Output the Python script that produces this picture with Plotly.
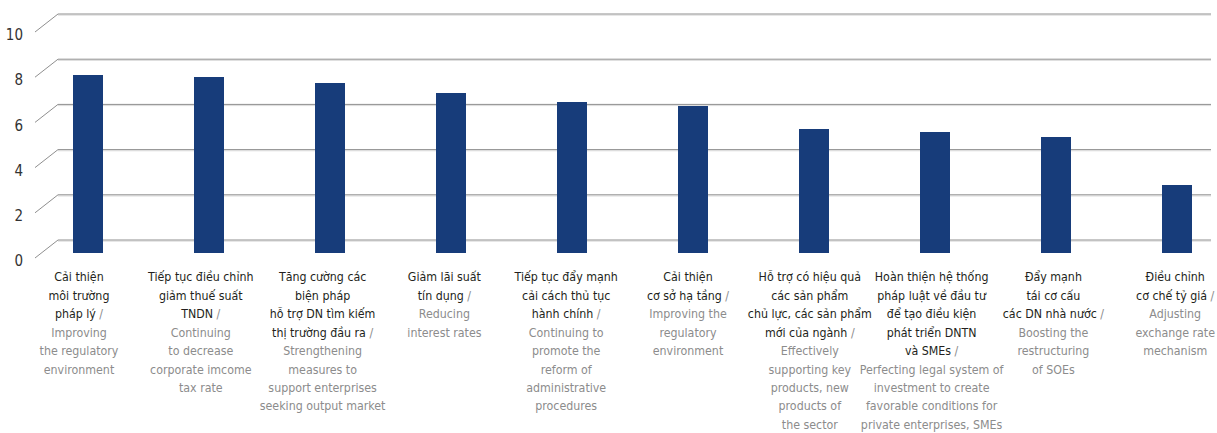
import plotly.graph_objects as go

# ---- data -------------------------------------------------------------
labels_vi = [
    "Cải thiện<br>môi trường<br>pháp lý",
    "Tiếp tục điều chỉnh<br>giảm thuế suất<br>TNDN",
    "Tăng cường các<br>biện pháp<br>hỗ trợ DN tìm kiếm<br>thị trường đầu ra",
    "Giảm lãi suất<br>tín dụng",
    "Tiếp tục đẩy mạnh<br>cải cách thủ tục<br>hành chính",
    "Cải thiện<br>cơ sở hạ tầng",
    "Hỗ trợ có hiệu quả<br>các sản phẩm<br>chủ lực, các sản phẩm<br>mới của ngành",
    "Hoàn thiện hệ thống<br>pháp luật về đầu tư<br>để tạo điều kiện<br>phát triển DNTN<br>và SMEs",
    "Đẩy mạnh<br>tái cơ cấu<br>các DN nhà nước",
    "Điều chỉnh<br>cơ chế tỷ giá",
]
labels_en = [
    "Improving<br>the regulatory<br>environment",
    "Continuing<br>to decrease<br>corporate imcome<br>tax rate",
    "Strengthening<br>measures to<br>support enterprises<br>seeking output market",
    "Reducing<br>interest rates",
    "Continuing to<br>promote the<br>reform of<br>administrative<br>procedures",
    "Improving the<br>regulatory<br>environment",
    "Effectively<br>supporting key<br>products, new<br>products of<br>the sector",
    "Perfecting legal system of<br>investment to create<br>favorable conditions for<br>private enterprises, SMEs",
    "Boosting the<br>restructuring<br>of SOEs",
    "Adjusting<br>exchange rate<br>mechanism",
]
scores = [7.88, 7.79, 7.52, 7.08, 6.68, 6.50, 5.49, 5.35, 5.13, 3.01]
y_ticks = [0, 2, 4, 6, 8, 10]

# ---- layout geometry (pixels) ----------------------------------------
W, H = 1217, 433
PLOT_L, PLOT_B = 35, 266            # left edge / bottom edge of plot area
PX_PER_UNIT = 22.6                  # vertical scale
BAR_BASE_PX = 253                   # pixel row of value 0 for the bars
BAR_FIRST_PX, BAR_STEP_PX = 88, 121
LBL_FIRST_PX, LBL_STEP_PX = 79, 121.8
BACK_DY, FRONT_DY = 13, -5          # back wall lifted, front edge lowered
BACK_X0, BACK_X1 = 58, 1211         # back wall horizontal extent
LABEL_DY = -8                       # y tick labels sit slightly below the front edge

plot_w = W - PLOT_L
y_range = [(BAR_BASE_PX - PLOT_B) / PX_PER_UNIT, BAR_BASE_PX / PX_PER_UNIT]
x_range = [(PLOT_L - BAR_FIRST_PX) / BAR_STEP_PX, (W - BAR_FIRST_PX) / BAR_STEP_PX]
x2_range = [(PLOT_L - LBL_FIRST_PX) / LBL_STEP_PX, (W - LBL_FIRST_PX) / LBL_STEP_PX]


def paper_x(px):
    return (px - PLOT_L) / plot_w


VI_COLOR = "#231f20"
EN_COLOR = "#8c8c8c"
GRID_COLOR = "#8f8f8f"
GRID_SHADOW = "#dcdcdc"
BAR_COLOR = "#173c7a"
FONT = "DejaVu Sans Condensed, Liberation Sans Narrow, Arial Narrow, sans-serif"
LINE_FONT_SIZE = 14.2    # sets the line pitch of the category labels
GLYPH_FONT_SIZE = 12.3   # actual glyph size of the category labels

positions = list(range(len(scores)))
tick_text = [
    f"<span style='font-size:{GLYPH_FONT_SIZE}px'>{vi}"
    f"<span style='color:{EN_COLOR}'> /<br>{en}</span></span>"
    for vi, en in zip(labels_vi, labels_en)
]

fig = go.Figure()
fig.add_trace(go.Bar(
    x=positions, y=scores, width=0.24,
    marker=dict(color=BAR_COLOR, line=dict(width=0)),
    hoverinfo="skip", showlegend=False,
))
# carrier for the category label axis
fig.add_trace(go.Scatter(
    x=positions, y=scores, xaxis="x2", mode="markers",
    marker=dict(opacity=0), hoverinfo="skip", showlegend=False,
))

shapes = []
for t in y_ticks:
    back_y = t + BACK_DY / PX_PER_UNIT
    front_y = t + FRONT_DY / PX_PER_UNIT
    shadow_y = back_y - 1.2 / PX_PER_UNIT
    # soft shadow under the back-wall gridline
    shapes.append(dict(type="line", xref="paper", yref="y",
                       x0=paper_x(BACK_X0), x1=paper_x(BACK_X1), y0=shadow_y, y1=shadow_y,
                       line=dict(color=GRID_SHADOW, width=1), layer="below"))
    # back-wall gridline
    shapes.append(dict(type="line", xref="paper", yref="y",
                       x0=paper_x(BACK_X0), x1=paper_x(BACK_X1), y0=back_y, y1=back_y,
                       line=dict(color=GRID_COLOR, width=1), layer="below"))
    # side-wall diagonal
    shapes.append(dict(type="line", xref="paper", yref="y",
                       x0=paper_x(PLOT_L), x1=paper_x(BACK_X0), y0=front_y, y1=back_y,
                       line=dict(color=GRID_COLOR, width=1), layer="below"))

fig.update_layout(
    width=W, height=H,
    margin=dict(l=PLOT_L, r=0, t=0, b=H - PLOT_B, pad=0),
    paper_bgcolor="white", plot_bgcolor="white",
    font=dict(family=FONT, size=14, color=VI_COLOR),
    shapes=shapes,
    xaxis=dict(range=x_range, showticklabels=False, showgrid=False,
               zeroline=False, showline=False, fixedrange=True),
    xaxis2=dict(range=x2_range, overlaying="x", anchor="y", side="bottom",
                tickmode="array", tickvals=positions, ticktext=tick_text,
                tickangle=0, ticklabeloverflow="allow",
                tickfont=dict(family=FONT, size=LINE_FONT_SIZE, color=VI_COLOR),
                showgrid=False, zeroline=False, showline=False, ticks="",
                ticklabelstandoff=0, fixedrange=True),
    yaxis=dict(range=y_range, tickmode="array",
               tickvals=[t + LABEL_DY / PX_PER_UNIT for t in y_ticks],
               ticktext=[str(t) for t in y_ticks],
               tickfont=dict(family=FONT, size=15, color="#333333"),
               showgrid=False, zeroline=False, showline=False, ticks="",
               ticklabelstandoff=11, fixedrange=True),
    bargap=0,
)

fig.write_html("out.html")
